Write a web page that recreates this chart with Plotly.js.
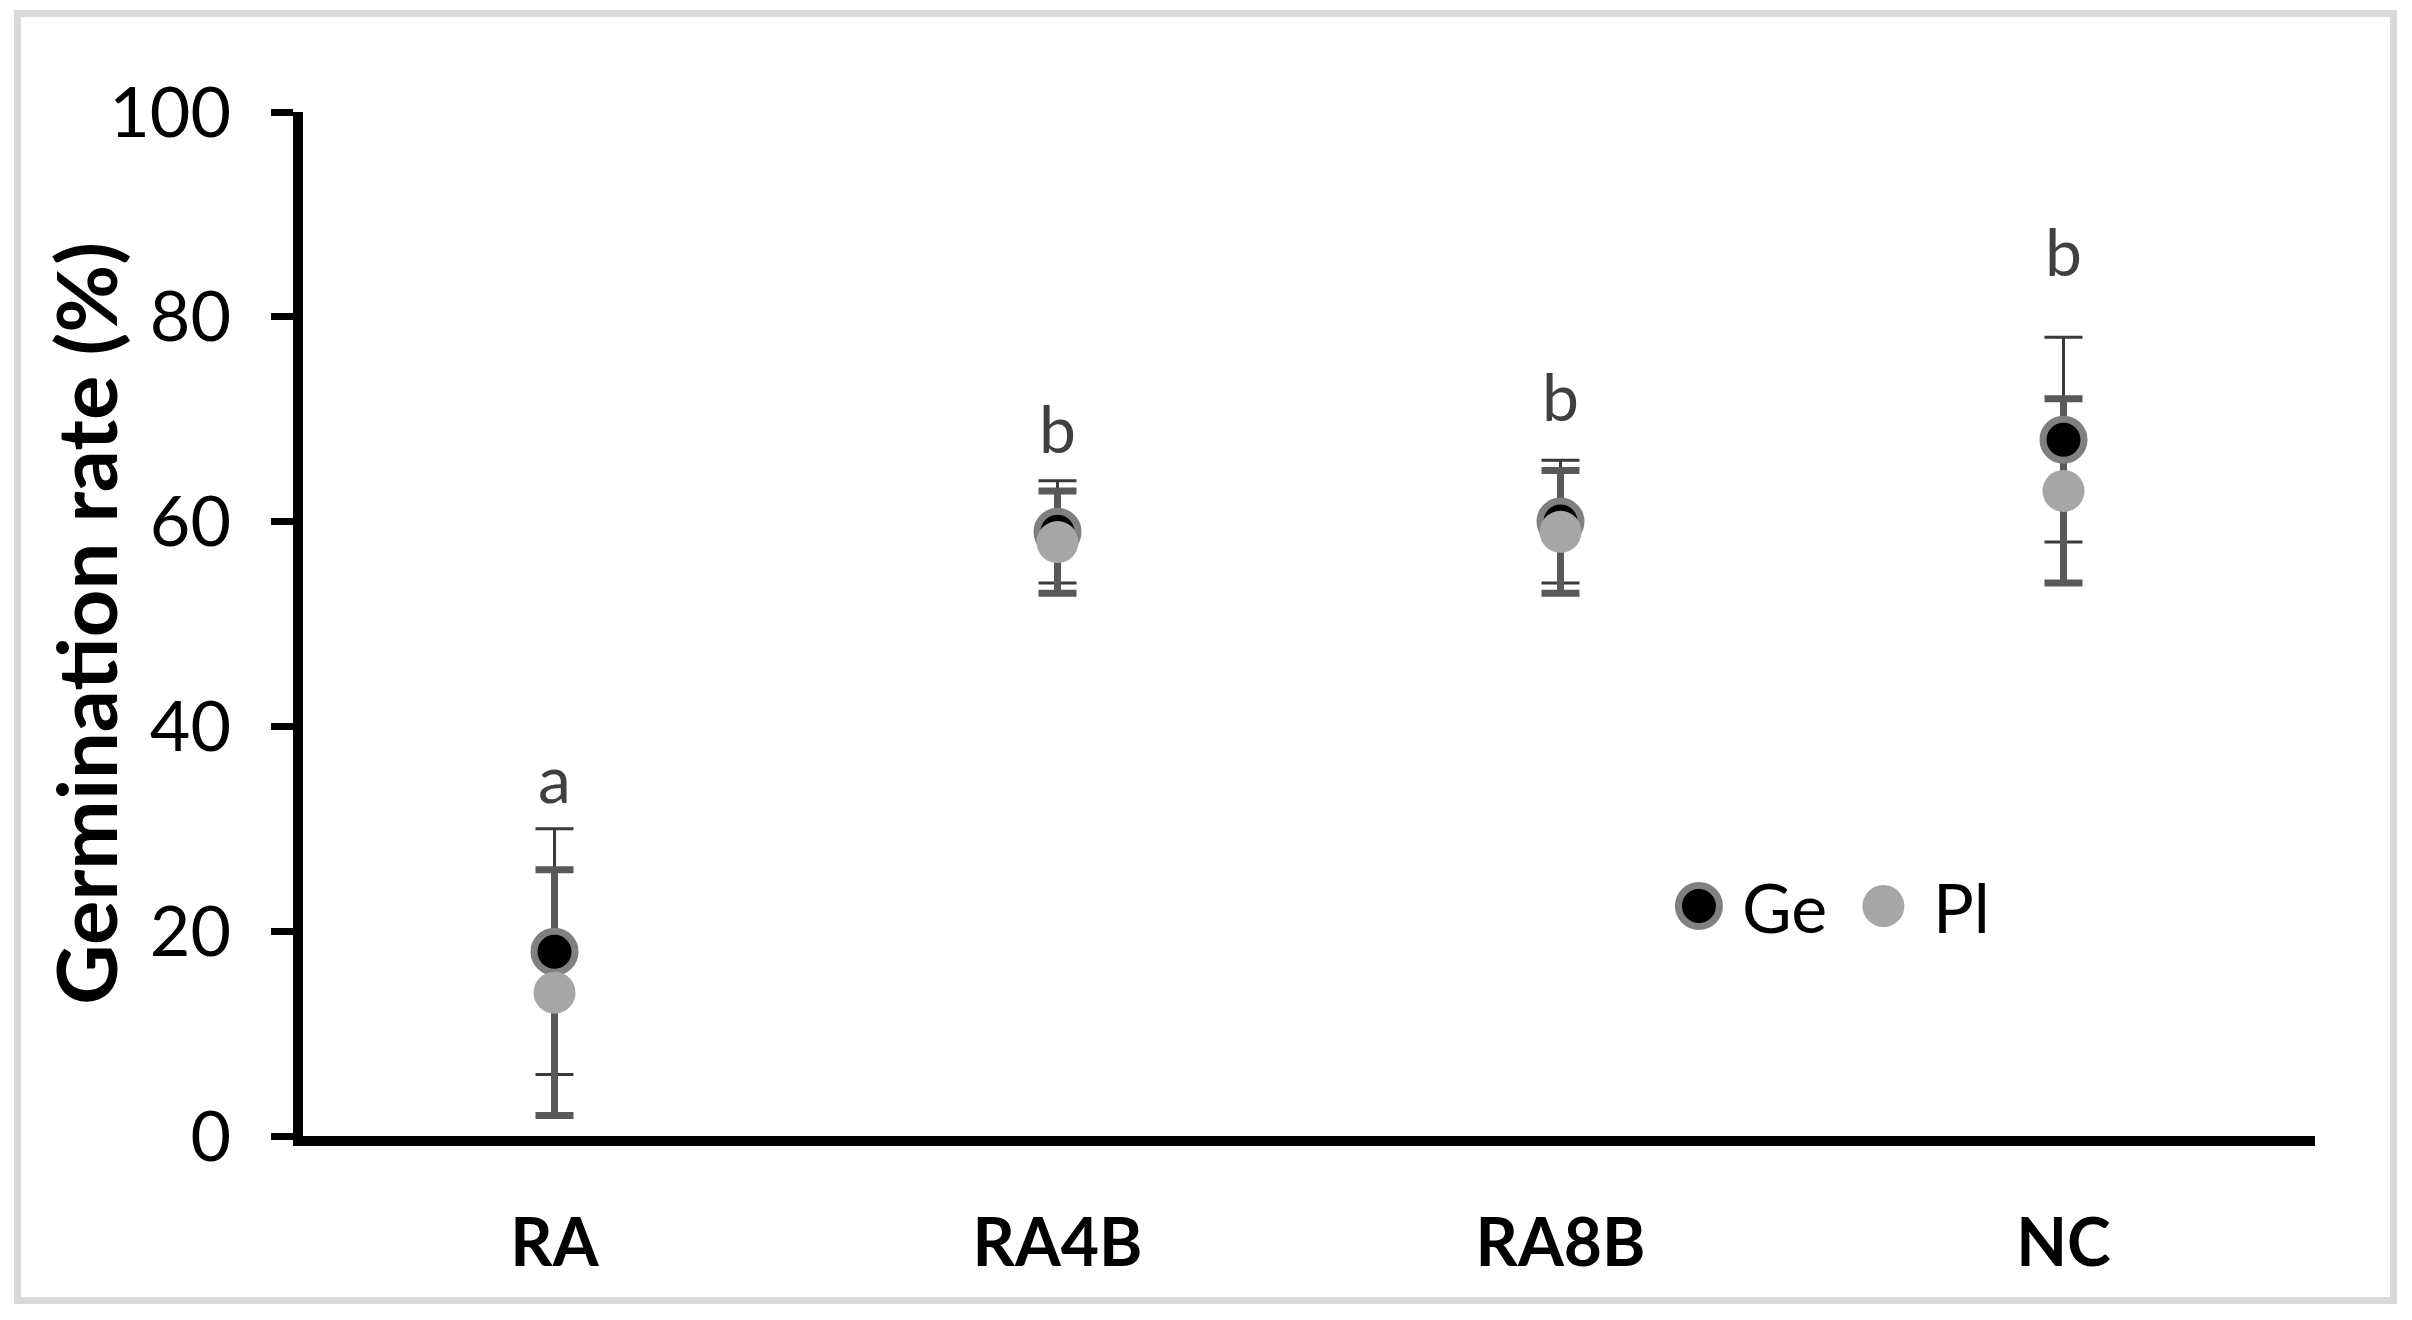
<!DOCTYPE html>
<html>
<head>
<meta charset="utf-8">
<script src="https://cdn.plot.ly/plotly-3.0.1.min.js"></script>
<style>html,body{margin:0;padding:0;background:#fff;}#chart{width:2412px;height:1320px;}</style>
</head>
<body>
<div id="chart"></div>
<script>
// ---- data ----
const categories = ['RA', 'RA4B', 'RA8B', 'NC'];
const geValues = [18, 59, 60, 68];
const geErrors = [12, 5, 6, 10];
const plValues = [14, 58, 59, 63];
const plErrors = [12, 5, 6, 9];
const letters = ['a', 'b', 'b', 'b'];
const letterBaseline = [32.3, 66.5, 69.6, 83.8];
const yTickValues = [0, 20, 40, 60, 80, 100];
const seriesNames = ['Ge', 'Pl'];
const yTitle = 'Germination rate (%)';

const FONT = 'Lato, "Open Sans", sans-serif';

const traces = [
  // error bars first (so all markers sit on top)
  {
    type: 'scatter', mode: 'markers', x: categories, y: geValues,
    marker: {size: 1, color: 'rgba(0,0,0,0)'},
    error_y: {type: 'data', array: geErrors, visible: true, color: '#3a3a3a', thickness: 3, width: 19},
    hoverinfo: 'skip', showlegend: false
  },
  {
    type: 'scatter', mode: 'markers', x: categories, y: plValues,
    marker: {size: 1, color: 'rgba(0,0,0,0)'},
    error_y: {type: 'data', array: plErrors, visible: true, color: '#595959', thickness: 7, width: 19},
    hoverinfo: 'skip', showlegend: false
  },
  {
    type: 'scatter', mode: 'markers', name: seriesNames[0], x: categories, y: geValues,
    marker: {size: 41, color: '#000000', line: {color: '#808080', width: 7}},
    showlegend: false
  },
  {
    type: 'scatter', mode: 'markers', name: seriesNames[1], x: categories, y: plValues,
    marker: {size: 42, color: '#a6a6a6', line: {width: 0}},
    showlegend: false
  }
];

const annotations = categories.map((c, i) => ({
  x: c, y: letterBaseline[i], xref: 'x', yref: 'y',
  text: letters[i], showarrow: false, yanchor: 'bottom', yshift: -14,
  font: {family: FONT, size: 66, color: '#404040'}
}));

// custom legend (texts)
annotations.push({
  xref: 'paper', yref: 'paper', x: 0.7140, y: 0.2246, xanchor: 'left', yanchor: 'middle',
  text: seriesNames[0], showarrow: false, font: {family: FONT, size: 68, color: '#000'}
});
annotations.push({
  xref: 'paper', yref: 'paper', x: 0.8090, y: 0.2246, xanchor: 'left', yanchor: 'middle',
  text: seriesNames[1], showarrow: false, font: {family: FONT, size: 68, color: '#000'}
});
// y-axis title
annotations.push({
  xref: 'paper', yref: 'paper', x: -0.1085, y: 0.501, xanchor: 'center', yanchor: 'middle',
  textangle: -90, text: yTitle, showarrow: false,
  font: {family: FONT, size: 83, color: '#000', weight: 'bold'}
});

const shapes = [
  // outer chart border
  {type: 'rect', xref: 'paper', yref: 'paper', x0: -0.1419, x1: 1.0390, y0: -0.1606, y1: 1.0962,
   line: {color: '#d9d9d9', width: 7}, fillcolor: 'rgba(0,0,0,0)', layer: 'below'},
  // legend symbols
  {type: 'circle', xref: 'paper', yref: 'paper', xsizemode: 'pixel', ysizemode: 'pixel',
   xanchor: 0.6938, yanchor: 0.2246, x0: -20.5, x1: 20.5, y0: -20.5, y1: 20.5,
   fillcolor: '#000000', line: {color: '#808080', width: 7}},
  {type: 'circle', xref: 'paper', yref: 'paper', xsizemode: 'pixel', ysizemode: 'pixel',
   xanchor: 0.7855, yanchor: 0.2246, x0: -21, x1: 21, y0: -21, y1: 21,
   fillcolor: '#a6a6a6', line: {width: 0}}
];

const layout = {
  width: 2412, height: 1320,
  margin: {l: 303, r: 97, t: 112, b: 184},
  paper_bgcolor: '#ffffff', plot_bgcolor: '#ffffff',
  showlegend: false,
  xaxis: {
    type: 'category', range: [-0.5, 3.5],
    showline: true, linecolor: '#000', linewidth: 10,
    ticks: '', showgrid: false, zeroline: false,
    tickfont: {family: FONT, size: 66, color: '#000', weight: 'bold'},
    ticklabelstandoff: 41
  },
  yaxis: {
    range: [0, 100], tickvals: yTickValues,
    showline: true, linecolor: '#000', linewidth: 10,
    ticks: 'outside', ticklen: 22, tickwidth: 7, tickcolor: '#000',
    showgrid: false, zeroline: false,
    tickfont: {family: FONT, size: 70, color: '#000'},
    ticklabelstandoff: 26
  },
  annotations: annotations,
  shapes: shapes
};

Plotly.newPlot('chart', traces, layout, {displayModeBar: false, staticPlot: true});
</script>
</body>
</html>
